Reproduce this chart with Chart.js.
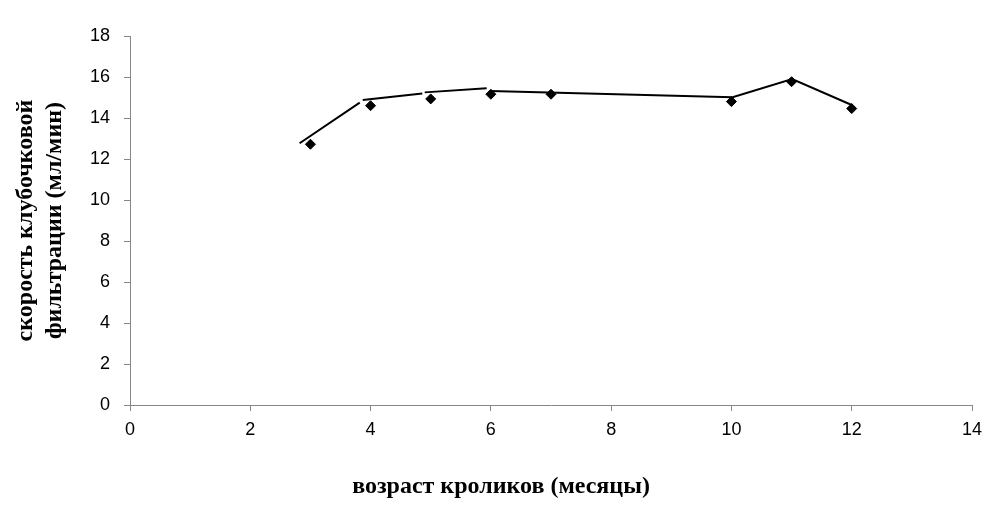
<!DOCTYPE html>
<html>
<head>
<meta charset="utf-8">
<script src="https://cdn.jsdelivr.net/npm/chart.js@4/dist/chart.umd.min.js"></script>
<style>
  html, body { margin: 0; padding: 0; background: #ffffff; }
  #wrap { width: 1006px; height: 515px; position: relative; }
</style>
</head>
<body>
<div id="wrap"><canvas id="c" width="1006" height="515"></canvas></div>
<script>
// Measured values (age in months vs glomerular filtration rate, ml/min)
const pointAges = [3, 4, 5, 6, 7, 10, 11, 12];
const pointRates = [12.72, 14.6, 14.93, 15.16, 15.16, 14.8, 15.77, 14.46];

// Drawn line (broken into pieces; null marks a gap)
const lineAges  = [2.82, 3.82, null, 3.87, 4.86, null, 4.90, 5.93, null, 5.99, 10.02, 11.01, 12.01];
const lineRates = [12.77, 14.75, null, 14.88, 15.20, null, 15.25, 15.45, null, 15.32, 15.01, 15.9, 14.62];

const xTicks = [0, 2, 4, 6, 8, 10, 12, 14];
const yTicks = [0, 2, 4, 6, 8, 10, 12, 14, 16, 18];

const xTitle = 'возраст кроликов (месяцы)';
const yTitle = ['скорость клубочковой', 'фильтрации (мл/мин)'];

const pointData = pointAges.map((a, i) => ({ x: a, y: pointRates[i] }));
const lineData = lineAges.map((a, i) => (a === null ? { x: null, y: null } : { x: a, y: lineRates[i] }));

const axisGray = '#868686';
const tickFont = { family: '"Liberation Sans", Arial, sans-serif', size: 18 };
const titleFontFamily = '"Liberation Serif", "Times New Roman", serif';

new Chart(document.getElementById('c'), {
  type: 'scatter',
  data: {
    datasets: [
      {
        label: 'line',
        data: lineData,
        showLine: true,
        spanGaps: false,
        borderColor: '#000000',
        borderWidth: 2,
        pointRadius: 0,
        pointHoverRadius: 0,
        tension: 0
      },
      {
        label: 'points',
        data: pointData,
        showLine: false,
        pointStyle: 'rectRot',
        pointRadius: 5,
        pointHoverRadius: 5,
        backgroundColor: '#000000',
        borderColor: '#000000',
        borderWidth: 1
      }
    ]
  },
  options: {
    responsive: false,
    animation: false,
    events: [],
    layout: { padding: { left: 0, right: 4, top: 36, bottom: 0 } },
    plugins: {
      legend: { display: false },
      tooltip: { enabled: false },
      title: {
        display: true,
        position: 'bottom',
        text: xTitle,
        color: '#000000',
        font: { family: titleFontFamily, size: 24, weight: 'bold', lineHeight: 1.2 },
        padding: { top: 8, bottom: 13.6 }
      }
    },
    scales: {
      x: {
        type: 'linear',
        min: 0,
        max: 14,
        afterBuildTicks: (s) => { s.ticks = xTicks.map(v => ({ value: v })); },
        afterFit: (s) => { s.height = 59.6; },
        ticks: { color: '#000000', font: tickFont, padding: 8, maxRotation: 0 },
        grid: { display: true, drawOnChartArea: false, drawTicks: true, tickLength: 6, color: axisGray, lineWidth: 1 },
        border: { display: true, color: axisGray, width: 1 }
      },
      y: {
        type: 'linear',
        position: 'left',
        min: 0,
        max: 18,
        afterBuildTicks: (s) => { s.ticks = yTicks.map(v => ({ value: v })); },
        afterFit: (s) => { s.width = 130; },
        ticks: { color: '#000000', font: tickFont, padding: 14 },
        grid: { display: true, drawOnChartArea: false, drawTicks: true, tickLength: 6, color: axisGray, lineWidth: 1 },
        border: { display: true, color: axisGray, width: 1 },
        title: {
          display: true,
          text: yTitle,
          color: '#000000',
          font: { family: titleFontFamily, size: 24, weight: 'bold', lineHeight: '29px' },
          padding: { top: 11.5, bottom: 0 }
        }
      },
      yRight: {
        type: 'linear',
        position: 'right',
        min: 0,
        max: 18,
        afterFit: (s) => { s.width = 30; },
        ticks: { display: false },
        grid: { display: false },
        border: { display: false }
      }
    }
  }
});
</script>
</body>
</html>
